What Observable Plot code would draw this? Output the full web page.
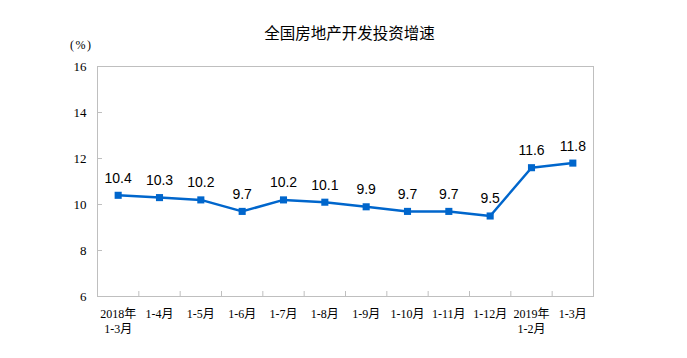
<!DOCTYPE html>
<html><head><meta charset="utf-8">
<script src="https://cdn.jsdelivr.net/npm/d3@7"></script>
<script src="https://cdn.jsdelivr.net/npm/@observablehq/plot@0.6"></script>
<style>
body{margin:0;background:#fff;color:#000;}
#wrap{width:687px;}
#head{position:relative;height:50px;}
#title{position:absolute;left:6px;width:687px;top:22px;text-align:center;font-size:15.5px;line-height:20px;font-family:"Noto Sans CJK SC","Noto Sans",sans-serif;}
#unit{position:absolute;left:70px;top:37px;font-size:12px;line-height:16px;letter-spacing:1.5px;font-family:"Liberation Serif","Noto Sans CJK SC",serif;}
</style>
</head><body>
<div id="wrap">
<div id="head"><div id="title">全国房地产开发投资增速</div><div id="unit">(%)</div></div>
<div id="chart"></div>
</div>
<script>
const categories = ["2018年\n1-3月","1-4月","1-5月","1-6月","1-7月","1-8月","1-9月","1-10月","1-11月","1-12月","2019年\n1-2月","1-3月"];
const values = [10.4,10.3,10.2,9.7,10.2,10.1,9.9,9.7,9.7,9.5,11.6,11.8];
const yTicks = [6,8,10,12,14,16];

const data = categories.map((c,i)=>({pos:i+0.5, cat:c, v:values[i]}));
const boundaries = d3.range(1, categories.length);

const chart = Plot.plot({
  width:687, height:308,
  marginTop:16, marginBottom:62, marginLeft:97, marginRight:94,
  style:{background:"#fff", color:"#000"},
  x:{type:"linear", domain:[0, categories.length]},
  y:{domain:[6,16]},
  marks:[
    Plot.frame({stroke:"#bfbfbf"}),
    Plot.axisY(yTicks,{tickSize:0, tickPadding:11, fontSize:13, fontFamily:"Liberation Serif", label:null}),
    Plot.axisY(yTicks,{tickSize:-5, stroke:"#bfbfbf", fill:"none", label:null}),
    Plot.axisX(boundaries,{tickSize:-5, stroke:"#bfbfbf", fill:"none", label:null}),
    Plot.axisX(data.map(d=>d.pos),{tickSize:0, tickPadding:11, tickFormat:x=>categories[Math.floor(x)], lineHeight:1.25, fontSize:12, fontFamily:"Liberation Serif, Noto Sans CJK SC", label:null}),
    Plot.line(data,{x:"pos", y:"v", stroke:"#0066cc", strokeWidth:2.5}),
    Plot.dot(data,{x:"pos", y:"v", symbol:"square", r:4, fill:"#0066cc", stroke:"none"}),
    Plot.text(data,{x:"pos", y:"v", text:d=>d.v.toFixed(1), dy:-17, fontSize:14, fontFamily:"Liberation Sans", fill:"#000"})
  ]
});
document.getElementById("chart").appendChild(chart);
</script>
</body></html>
